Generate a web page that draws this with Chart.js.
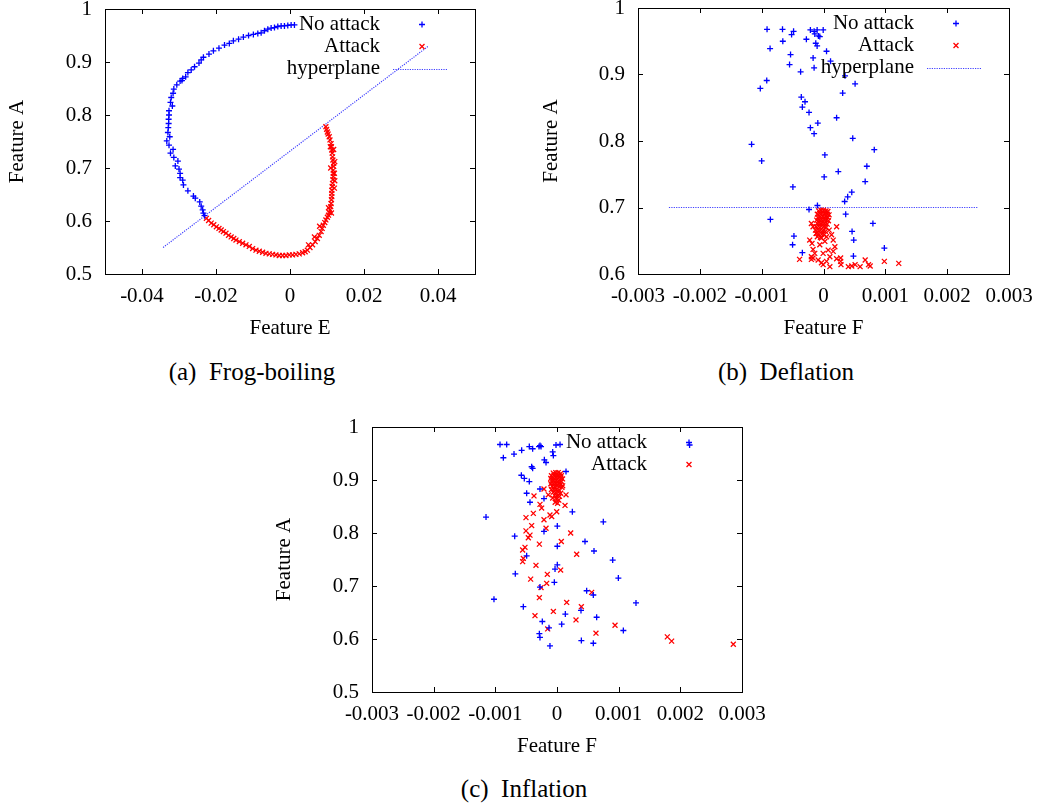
<!DOCTYPE html>
<html>
<head>
<meta charset="utf-8">
<script src="https://cdn.jsdelivr.net/npm/chart.js@4.4.1/dist/chart.umd.min.js"></script>
<style>
  body { margin: 0; background: #fff; }
  #page { position: relative; width: 1038px; height: 808px; overflow: hidden; background: #fff; }
  canvas { position: absolute; }
  .caption { position: absolute; font: 25px 'Liberation Serif', serif; line-height: 25px; white-space: pre; transform: translateX(-50%); color: #000; }
</style>
</head>
<body>
<div id="page">
  <canvas id="frog" width="500" height="345" style="left:0px;top:0px"></canvas>
  <canvas id="deflation" width="518" height="345" style="left:520px;top:0px"></canvas>
  <canvas id="inflation" width="520" height="360" style="left:260px;top:410px"></canvas>
  <div class="caption" style="left:252px;top:359px">(a)  Frog-boiling</div>
  <div class="caption" style="left:786px;top:359px">(b)  Deflation</div>
  <div class="caption" style="left:524px;top:776px">(c)  Inflation</div>
</div>
<script>
// ---- data: [feature x, feature A] ----
const frogNoAttack = [
  [0.0012, 0.970], [0.0003, 0.970], [-0.0006, 0.969], [-0.0015, 0.968], [-0.0024, 0.968],
  [-0.0033, 0.967], [-0.0042, 0.965], [-0.0051, 0.964], [-0.0060, 0.962], [-0.0069, 0.959],
  [-0.0078, 0.955], [-0.0087, 0.954], [-0.0099, 0.952], [-0.0112, 0.950], [-0.0126, 0.947],
  [-0.0139, 0.943], [-0.0153, 0.940], [-0.0164, 0.935], [-0.0177, 0.932], [-0.0192, 0.926],
  [-0.0207, 0.921], [-0.0219, 0.915], [-0.0234, 0.909], [-0.0240, 0.904], [-0.0246, 0.898],
  [-0.0258, 0.891], [-0.0267, 0.885], [-0.0276, 0.880], [-0.0282, 0.872], [-0.0290, 0.869],
  [-0.0292, 0.865], [-0.0297, 0.864], [-0.0306, 0.857], [-0.0314, 0.849], [-0.0316, 0.841],
  [-0.0321, 0.833], [-0.0323, 0.824], [-0.0318, 0.817], [-0.0327, 0.808], [-0.0327, 0.800],
  [-0.0328, 0.792], [-0.0328, 0.784], [-0.0329, 0.776], [-0.0330, 0.767], [-0.0325, 0.759],
  [-0.0333, 0.751], [-0.0327, 0.743], [-0.0316, 0.735], [-0.0323, 0.728], [-0.0314, 0.720],
  [-0.0303, 0.713], [-0.0310, 0.704], [-0.0300, 0.698], [-0.0297, 0.690], [-0.0297, 0.682],
  [-0.0290, 0.677], [-0.0288, 0.668], [-0.0276, 0.657], [-0.0261, 0.647], [-0.0256, 0.643],
  [-0.0244, 0.636], [-0.0240, 0.628], [-0.0236, 0.621], [-0.0234, 0.615], [-0.0231, 0.610]
];
const frogAttack = [
  [-0.0226, 0.605], [-0.0220, 0.601], [-0.0213, 0.596], [-0.0206, 0.593], [-0.0199, 0.589],
  [-0.0192, 0.586], [-0.0186, 0.583], [-0.0180, 0.580], [-0.0173, 0.577], [-0.0166, 0.573],
  [-0.0159, 0.570], [-0.0152, 0.567], [-0.0146, 0.564], [-0.0137, 0.561], [-0.0128, 0.558],
  [-0.0119, 0.555], [-0.0110, 0.552], [-0.0101, 0.548], [-0.0092, 0.545], [-0.0083, 0.543],
  [-0.0074, 0.541], [-0.0065, 0.539], [-0.0056, 0.538], [-0.0047, 0.537], [-0.0038, 0.536],
  [-0.0029, 0.535], [-0.0020, 0.535], [-0.0011, 0.535], [-0.0002, 0.536], [0.0007, 0.536],
  [0.0016, 0.537], [0.0025, 0.538], [0.0034, 0.540], [0.0041, 0.542], [0.0047, 0.545],
  [0.0050, 0.555], [0.0054, 0.550], [0.0061, 0.555], [0.0066, 0.570], [0.0068, 0.561],
  [0.0074, 0.567], [0.0079, 0.573], [0.0080, 0.590], [0.0084, 0.580], [0.0087, 0.586],
  [0.0090, 0.592], [0.0094, 0.597], [0.0097, 0.602], [0.0101, 0.607], [0.0104, 0.611],
  [0.0112, 0.615], [0.0106, 0.616], [0.0108, 0.621], [0.0104, 0.625], [0.0110, 0.627],
  [0.0111, 0.633], [0.0112, 0.640], [0.0113, 0.646], [0.0113, 0.652], [0.0113, 0.658],
  [0.0120, 0.662], [0.0114, 0.665], [0.0115, 0.671], [0.0121, 0.676], [0.0116, 0.678],
  [0.0117, 0.684], [0.0117, 0.690], [0.0120, 0.690], [0.0117, 0.696], [0.0110, 0.700],
  [0.0118, 0.703], [0.0118, 0.709], [0.0121, 0.712], [0.0116, 0.715], [0.0115, 0.721],
  [0.0114, 0.728], [0.0113, 0.734], [0.0118, 0.735], [0.0112, 0.740], [0.0109, 0.740],
  [0.0111, 0.746], [0.0108, 0.753], [0.0106, 0.759], [0.0103, 0.764], [0.0101, 0.768],
  [0.0099, 0.773], [0.0097, 0.778]
];
const frogHyperplane = [[-0.0343, 0.550], [0.0374, 0.930]];

const deflationNoAttack = [
  [-0.000913, 0.968], [-0.000663, 0.968], [-0.000484, 0.965], [-0.000516, 0.960], [-0.000658, 0.950],
  [-0.000864, 0.939], [-0.000533, 0.930], [-0.000549, 0.915], [-0.000370, 0.904], [-0.000918, 0.891],
  [-0.001022, 0.879], [-0.000212, 0.967], [-0.000152, 0.965], [-0.000141, 0.961], [-0.000103, 0.967],
  [-0.000060, 0.957], [-0.000082, 0.958], [-0.000005, 0.967], [-0.000125, 0.947], [-0.000103, 0.943],
  [-0.000277, 0.953], [-0.000168, 0.925], [-0.000152, 0.910], [0.000049, 0.935], [0.000114, 0.920],
  [0.000348, 0.898], [0.000511, 0.886], [0.000310, 0.872], [-0.000359, 0.866], [-0.000342, 0.851],
  [-0.000299, 0.859], [-0.000234, 0.843], [-0.000212, 0.820], [-0.000152, 0.811], [-0.000092, 0.827],
  [0.000212, 0.835], [0.000473, 0.804], [-0.001163, 0.795], [-0.001000, 0.770], [0.000821, 0.787],
  [0.000022, 0.779], [0.000011, 0.746], [0.000239, 0.754], [0.000701, 0.762], [0.000674, 0.739],
  [0.000457, 0.723], [0.000391, 0.716], [0.000342, 0.709], [-0.000098, 0.703], [-0.000234, 0.697],
  [-0.000495, 0.731], [-0.000859, 0.682], [0.000359, 0.690], [0.000799, 0.676], [0.000462, 0.664],
  [0.000489, 0.651], [-0.000478, 0.657], [-0.000500, 0.644], [-0.000342, 0.632], [0.000484, 0.627],
  [0.000984, 0.639]
];
const deflationAttack = [
  [-0.00008, 0.695], [-0.00004, 0.696], [0.00000, 0.696], [0.00004, 0.695], [0.00007, 0.694],
  [-0.00010, 0.690], [-0.00006, 0.691], [-0.00002, 0.692], [0.00002, 0.691], [0.00006, 0.690],
  [0.00009, 0.689], [-0.00009, 0.685], [-0.00005, 0.686], [-0.00001, 0.687], [0.00003, 0.686],
  [0.00007, 0.685], [-0.00011, 0.681], [-0.00007, 0.681], [-0.00003, 0.682], [0.00001, 0.682],
  [0.00005, 0.681], [0.00008, 0.680], [-0.00010, 0.676], [-0.00006, 0.677], [-0.00002, 0.677],
  [0.00002, 0.676], [0.00006, 0.675], [-0.00012, 0.671], [-0.00008, 0.672], [-0.00004, 0.672],
  [0.00000, 0.671], [0.00004, 0.670], [-0.00013, 0.666], [-0.00009, 0.667], [-0.00005, 0.666],
  [-0.00001, 0.665], [0.00003, 0.664], [-0.00012, 0.661], [-0.00008, 0.660], [-0.00003, 0.660],
  [0.00001, 0.659], [-0.00010, 0.656], [-0.00005, 0.655],
  [-0.000196, 0.676], [-0.000169, 0.671], [-0.000223, 0.651], [-0.000186, 0.646], [-0.000169, 0.637],
  [-0.000141, 0.631], [-0.000196, 0.626], [-0.000169, 0.624], [-0.000087, 0.621], [-0.000033, 0.617],
  [-0.000006, 0.614], [0.000103, 0.611], [0.000049, 0.619], [0.000103, 0.626], [0.000157, 0.634],
  [0.000184, 0.641], [0.000157, 0.651], [0.000130, 0.659], [0.000212, 0.671], [0.000092, 0.666],
  [-0.000387, 0.622], [-0.000196, 0.622], [0.000277, 0.624], [0.000277, 0.619], [0.000283, 0.614],
  [0.000402, 0.611], [0.000457, 0.612], [0.000511, 0.614], [0.000592, 0.611], [0.000674, 0.621],
  [0.000728, 0.614], [0.000755, 0.612], [-0.000006, 0.631], [0.000076, 0.636], [-0.000060, 0.644],
  [0.000022, 0.649], [-0.000114, 0.661], [-0.000033, 0.654], [0.000049, 0.656], [0.000984, 0.619],
  [0.001217, 0.616], [0.000212, 0.623]
];
const deflationHyperplane = [[-0.0025, 0.700], [0.0025, 0.700]];

const inflationNoAttack = [
  [-0.000924, 0.967], [-0.000816, 0.967], [-0.000870, 0.942], [-0.000697, 0.949], [-0.000573, 0.956],
  [-0.000449, 0.963], [-0.000395, 0.959], [-0.000292, 0.963], [-0.000276, 0.965], [-0.000259, 0.963],
  [-0.000205, 0.938], [-0.000178, 0.933], [-0.000070, 0.953], [-0.000059, 0.946], [-0.000016, 0.966],
  [0.000049, 0.967], [-0.000578, 0.909], [-0.000530, 0.903], [-0.000449, 0.897], [-0.000411, 0.925],
  [-0.000395, 0.922], [-0.000276, 0.883], [-0.000211, 0.865], [0.000146, 0.916], [-0.000492, 0.875],
  [-0.000438, 0.858], [-0.000211, 0.803], [0.000005, 0.813], [0.000249, 0.840], [0.000751, 0.821],
  [-0.001151, 0.830], [-0.000686, 0.794], [-0.000492, 0.757], [0.000005, 0.775], [0.000454, 0.784],
  [0.000600, 0.766], [0.000903, 0.749], [0.000995, 0.715], [0.000005, 0.740], [-0.000032, 0.732],
  [-0.000043, 0.707], [-0.000676, 0.723], [-0.000276, 0.698], [0.000481, 0.691], [0.000589, 0.683],
  [0.001281, 0.668], [-0.001022, 0.675], [-0.000546, 0.661], [-0.000238, 0.633], [-0.000130, 0.621],
  [0.000076, 0.628], [0.000135, 0.647], [0.000389, 0.654], [0.000643, 0.641], [-0.000286, 0.610],
  [-0.000276, 0.603], [-0.000114, 0.587], [0.000395, 0.597], [0.000589, 0.592], [0.001076, 0.616],
  [0.002150, 0.966]
];
const inflationAttack = [
  [-0.00006, 0.913], [-0.00002, 0.914], [0.00002, 0.914], [0.00006, 0.912], [-0.00009, 0.908],
  [-0.00005, 0.909], [-0.00001, 0.910], [0.00003, 0.909], [0.00007, 0.908], [-0.00010, 0.903],
  [-0.00006, 0.904], [-0.00002, 0.905], [0.00002, 0.904], [0.00006, 0.903], [0.00009, 0.902],
  [-0.00009, 0.898], [-0.00005, 0.899], [-0.00001, 0.899], [0.00003, 0.898], [0.00007, 0.897],
  [-0.00010, 0.893], [-0.00006, 0.893], [-0.00002, 0.894], [0.00002, 0.893], [0.00006, 0.892],
  [-0.00008, 0.888], [-0.00004, 0.888], [0.00000, 0.889], [0.00004, 0.887], [0.00008, 0.886],
  [-0.00009, 0.882], [-0.00005, 0.883], [-0.00001, 0.882], [0.00003, 0.881], [-0.00006, 0.877],
  [-0.00002, 0.876], [0.00002, 0.877], [0.00006, 0.875], [-0.00004, 0.871], [0.00000, 0.870],
  [0.00004, 0.869], [-0.00007, 0.866], [-0.00001, 0.864], [0.00003, 0.862], [-0.00003, 0.858],
  [0.00001, 0.856],
  [-0.000373, 0.870], [-0.000211, 0.883], [-0.000141, 0.872], [-0.000276, 0.854], [-0.000249, 0.847],
  [-0.000114, 0.834], [-0.000086, 0.831], [-0.000005, 0.840], [0.000130, 0.852], [0.000146, 0.872],
  [0.000092, 0.889], [-0.000384, 0.837], [-0.000503, 0.829], [-0.000411, 0.814], [-0.000503, 0.804],
  [-0.000465, 0.791], [-0.000438, 0.796], [-0.000211, 0.825], [-0.000178, 0.809], [-0.000286, 0.779],
  [-0.000557, 0.768], [-0.000519, 0.773], [-0.000546, 0.752], [-0.000557, 0.746], [-0.000341, 0.739],
  [-0.000427, 0.713], [-0.000157, 0.722], [-0.000259, 0.697], [-0.000168, 0.705], [-0.000286, 0.678],
  [0.000059, 0.730], [0.000222, 0.800], [0.000070, 0.784], [0.000319, 0.760], [0.000157, 0.669],
  [0.000395, 0.661], [0.000562, 0.688], [0.000308, 0.636], [-0.000059, 0.652], [-0.000357, 0.644],
  [-0.000151, 0.619], [0.000632, 0.611], [0.000941, 0.626], [0.001789, 0.604], [0.001859, 0.596],
  [0.002859, 0.590]
];

// ---- tick values ----
const frogTicksX = [-0.04, -0.02, 0, 0.02, 0.04];
const frogTicksY = [0.5, 0.6, 0.7, 0.8, 0.9, 1];
const deflationTicksX = [-0.003, -0.002, -0.001, 0, 0.001, 0.002, 0.003];
const deflationTicksY = [0.6, 0.7, 0.8, 0.9, 1];
const inflationTicksX = [-0.003, -0.002, -0.001, 0, 0.001, 0.002, 0.003];
const inflationTicksY = [0.5, 0.6, 0.7, 0.8, 0.9, 1];

const FONT = "'Liberation Serif', 'Times New Roman', serif";
const BLUE = '#0000ff';
const RED = '#ff0000';
const LINE_BLUE = '#4040ff';

function pts(pairs) {
  return pairs.map(p => ({ x: p[0], y: p[1] }));
}

function drawMark(ctx, style, x, y, r) {
  ctx.beginPath();
  if (style === 'cross') {
    ctx.moveTo(x - r, y); ctx.lineTo(x + r, y);
    ctx.moveTo(x, y - r); ctx.lineTo(x, y + r);
  } else {
    const d = r * Math.SQRT1_2;
    ctx.moveTo(x - d, y - d); ctx.lineTo(x + d, y + d);
    ctx.moveTo(x - d, y + d); ctx.lineTo(x + d, y - d);
  }
  ctx.stroke();
}

// gnuplot style: full border, ticks pointing inward on all sides
const frameTicks = {
  id: 'frameTicks',
  afterDatasetsDraw(chart) {
    const { ctx, chartArea: a, scales: { x, y } } = chart;
    const len = 5;
    ctx.save();
    ctx.strokeStyle = '#000';
    ctx.lineWidth = 1;
    ctx.beginPath();
    x.ticks.forEach(t => {
      const px = Math.round(x.getPixelForValue(t.value)) + 0.5;
      ctx.moveTo(px, a.bottom); ctx.lineTo(px, a.bottom - len);
      ctx.moveTo(px, a.top); ctx.lineTo(px, a.top + len);
    });
    y.ticks.forEach(t => {
      const py = Math.round(y.getPixelForValue(t.value)) + 0.5;
      ctx.moveTo(a.left, py); ctx.lineTo(a.left + len, py);
      ctx.moveTo(a.right, py); ctx.lineTo(a.right - len, py);
    });
    ctx.stroke();
    ctx.strokeRect(Math.round(a.left) + 0.5, Math.round(a.top) + 0.5,
      Math.round(a.right - a.left), Math.round(a.bottom - a.top));
    ctx.restore();
  }
};

// key in the top right corner, text right-aligned, sample to its right
const gnuKey = {
  id: 'gnuKey',
  afterDatasetsDraw(chart) {
    const { ctx, chartArea: a } = chart;
    ctx.save();
    ctx.font = '21px ' + FONT;
    ctx.textAlign = 'right';
    ctx.textBaseline = 'middle';
    chart.data.datasets.forEach((ds, i) => {
      const rowY = a.top + 15.5 + i * 22;
      ctx.fillStyle = '#000';
      ctx.fillText(ds.label, a.right - 95, rowY);
      ctx.strokeStyle = ds.borderColor;
      ctx.lineWidth = 1.3;
      if (ds.showLine) {
        ctx.lineWidth = ds.borderWidth;
        ctx.setLineDash(ds.borderDash || []);
        ctx.beginPath();
        ctx.moveTo(a.right - 82, Math.round(rowY) + 0.5);
        ctx.lineTo(a.right - 27, Math.round(rowY) + 0.5);
        ctx.stroke();
        ctx.setLineDash([]);
      } else {
        drawMark(ctx, ds.pointStyle, a.right - 53, rowY, ds.pointRadius);
      }
    });
    ctx.restore();
  }
};

function marks(label, pairs, color, style, r) {
  return {
    label, data: pts(pairs), borderColor: color, backgroundColor: color,
    pointStyle: style, pointRadius: r, pointBorderWidth: 1.3, showLine: false
  };
}

function hyperplane(pairs) {
  return {
    label: 'hyperplane', data: pts(pairs), showLine: true, borderColor: LINE_BLUE,
    borderWidth: 1.2, borderDash: [1.2, 1.2], pointRadius: 0
  };
}

function axis(min, max, ticks, title, horizontal, size, titlePad) {
  return {
    type: 'linear', min, max,
    grid: { display: false, drawTicks: false },
    border: { display: false },
    afterBuildTicks: s => { s.ticks = ticks.map(v => ({ value: v })); },
    afterFit: s => {
      if (horizontal) s.height = size; else s.width = size;
      // keep the plot box where the layout puts it, labels may overhang
      s.paddingTop = 0; s.paddingBottom = 0; s.paddingLeft = 0; s.paddingRight = 0;
    },
    ticks: {
      color: '#000', font: { family: FONT, size: 21 }, padding: horizontal ? 10 : 13,
      maxRotation: 0, autoSkip: false, callback: v => String(v)
    },
    title: {
      display: true, text: title, color: '#000', font: { family: FONT, size: 21 },
      padding: horizontal ? { top: 0, bottom: titlePad } : { top: titlePad, bottom: 0 }
    }
  };
}

function makeChart(id, datasets, padding, x, y) {
  return new Chart(document.getElementById(id), {
    type: 'scatter',
    data: { datasets },
    options: {
      responsive: false,
      animation: false,
      events: [],
      layout: { padding },
      plugins: { legend: { display: false }, tooltip: { enabled: false } },
      scales: { x, y }
    },
    plugins: [frameTicks, gnuKey]
  });
}

makeChart('frog',
  [marks('No attack', frogNoAttack, BLUE, 'cross', 3),
   marks('Attack', frogAttack, RED, 'crossRot', 3.5),
   hyperplane(frogHyperplane)],
  { top: 9, right: 25, left: 0, bottom: 0 },
  axis(-0.05, 0.05, frogTicksX, 'Feature E', true, 71, 4),
  axis(0.5, 1, frogTicksY, 'Feature A', false, 105, 5));

makeChart('deflation',
  [marks('No attack', deflationNoAttack, BLUE, 'cross', 3),
   marks('Attack', deflationAttack, RED, 'crossRot', 3.5),
   hyperplane(deflationHyperplane)],
  { top: 8, right: 29, left: 0, bottom: 0 },
  axis(-0.003, 0.003, deflationTicksX, 'Feature F', true, 71, 4),
  axis(0.6, 1, deflationTicksY, 'Feature A', false, 118, 19));

makeChart('inflation',
  [marks('No attack', inflationNoAttack, BLUE, 'cross', 3),
   marks('Attack', inflationAttack, RED, 'crossRot', 3.5)],
  { top: 17, right: 38, left: 0, bottom: 0 },
  axis(-0.003, 0.003, inflationTicksX, 'Feature F', true, 78, 11),
  axis(0.5, 1, inflationTicksY, 'Feature A', false, 112, 12));
</script>
</body>
</html>
